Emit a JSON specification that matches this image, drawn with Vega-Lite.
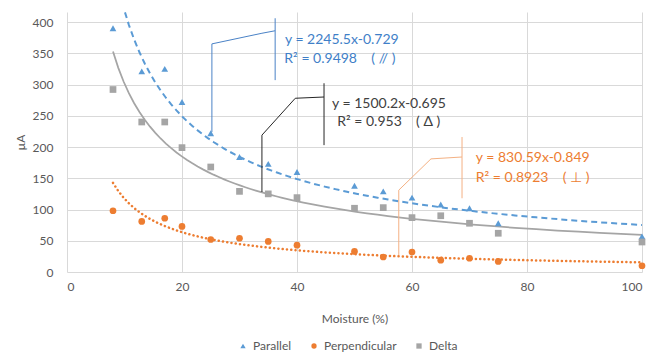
{
  "$schema": "https://vega.github.io/schema/vega-lite/v6.json",
  "width": 575,
  "height": 260,
  "autosize": {"type": "none"},
  "padding": {"left": 67, "top": 12, "right": 28, "bottom": 84},
  "background": "white",
  "config": {
    "font": "Lato",
    "view": {"stroke": null},
    "axis": {
      "grid": true,
      "gridColor": "#d9d9d9",
      "domain": false,
      "ticks": false,
      "labelOverlap": false,
      "labelColor": "#595959",
      "labelFontSize": 12,
      "titleColor": "#595959",
      "titleFontSize": 12,
      "titleFontWeight": "normal"
    }
  },
  "datasets": {
    "pts": [
      {"m": 8, "v": 390, "s": "Parallel"},
      {"m": 13, "v": 321, "s": "Parallel"},
      {"m": 17, "v": 325, "s": "Parallel"},
      {"m": 20, "v": 272, "s": "Parallel"},
      {"m": 25, "v": 222, "s": "Parallel"},
      {"m": 30, "v": 184, "s": "Parallel"},
      {"m": 35, "v": 173, "s": "Parallel"},
      {"m": 40, "v": 160, "s": "Parallel"},
      {"m": 50, "v": 138, "s": "Parallel"},
      {"m": 55, "v": 129, "s": "Parallel"},
      {"m": 60, "v": 119, "s": "Parallel"},
      {"m": 65, "v": 108, "s": "Parallel"},
      {"m": 70, "v": 102, "s": "Parallel"},
      {"m": 75, "v": 78, "s": "Parallel"},
      {"m": 100, "v": 57, "s": "Parallel"},
      {"m": 8, "v": 98, "s": "Perpendicular"},
      {"m": 13, "v": 81, "s": "Perpendicular"},
      {"m": 17, "v": 86, "s": "Perpendicular"},
      {"m": 20, "v": 73, "s": "Perpendicular"},
      {"m": 25, "v": 52, "s": "Perpendicular"},
      {"m": 30, "v": 54, "s": "Perpendicular"},
      {"m": 35, "v": 49, "s": "Perpendicular"},
      {"m": 40, "v": 43, "s": "Perpendicular"},
      {"m": 50, "v": 33, "s": "Perpendicular"},
      {"m": 55, "v": 24, "s": "Perpendicular"},
      {"m": 60, "v": 32, "s": "Perpendicular"},
      {"m": 65, "v": 19, "s": "Perpendicular"},
      {"m": 70, "v": 22, "s": "Perpendicular"},
      {"m": 75, "v": 17, "s": "Perpendicular"},
      {"m": 100, "v": 10, "s": "Perpendicular"},
      {"m": 8, "v": 292, "s": "Delta"},
      {"m": 13, "v": 240, "s": "Delta"},
      {"m": 17, "v": 240, "s": "Delta"},
      {"m": 20, "v": 199, "s": "Delta"},
      {"m": 25, "v": 168, "s": "Delta"},
      {"m": 30, "v": 129, "s": "Delta"},
      {"m": 35, "v": 125, "s": "Delta"},
      {"m": 40, "v": 119, "s": "Delta"},
      {"m": 50, "v": 102, "s": "Delta"},
      {"m": 55, "v": 103, "s": "Delta"},
      {"m": 60, "v": 87, "s": "Delta"},
      {"m": 65, "v": 90, "s": "Delta"},
      {"m": 70, "v": 78, "s": "Delta"},
      {"m": 75, "v": 62, "s": "Delta"},
      {"m": 100, "v": 48, "s": "Delta"}
    ],
    "leaders": [
      {"s": "Parallel", "seg": "a", "k": 1, "m": 25.2, "v": 224},
      {"s": "Parallel", "seg": "a", "k": 2, "m": 25.2, "v": 365},
      {"s": "Parallel", "seg": "a", "k": 3, "m": 33.9, "v": 382},
      {"s": "Parallel", "seg": "a", "k": 4, "m": 36.2, "v": 386},
      {"s": "Parallel", "seg": "b", "k": 1, "m": 36.2, "v": 406},
      {"s": "Parallel", "seg": "b", "k": 2, "m": 36.2, "v": 307},
      {"s": "Delta", "seg": "c", "k": 1, "m": 33.9, "v": 128},
      {"s": "Delta", "seg": "c", "k": 2, "m": 33.9, "v": 219},
      {"s": "Delta", "seg": "c", "k": 3, "m": 39.7, "v": 278},
      {"s": "Delta", "seg": "c", "k": 4, "m": 44.7, "v": 280},
      {"s": "Delta", "seg": "d", "k": 1, "m": 44.7, "v": 302},
      {"s": "Delta", "seg": "d", "k": 2, "m": 44.7, "v": 203},
      {"s": "Perpendicular", "seg": "e", "k": 1, "m": 57.7, "v": 27},
      {"s": "Perpendicular", "seg": "e", "k": 2, "m": 57.7, "v": 131},
      {"s": "Perpendicular", "seg": "e", "k": 3, "m": 63.3, "v": 181},
      {"s": "Perpendicular", "seg": "e", "k": 4, "m": 68.7, "v": 184},
      {"s": "Perpendicular", "seg": "f", "k": 1, "m": 68.7, "v": 216},
      {"s": "Perpendicular", "seg": "f", "k": 2, "m": 68.7, "v": 118}
    ],
    "ann": [
      {"s": "Parallel", "m": 37.9, "v": 371, "t": "y = 2245.5x-0.729"},
      {"s": "Parallel", "m": 37.8, "v": 341, "t": "R² = 0.9498\u00a0\u00a0\u00a0\u00a0( // )"},
      {"s": "Delta", "m": 46.1, "v": 269, "t": "y = 1500.2x-0.695"},
      {"s": "Delta", "m": 47.0, "v": 240, "t": "R² = 0.953\u00a0\u00a0\u00a0\u00a0( Δ )"},
      {"s": "Perpendicular", "m": 71.1, "v": 182, "t": "y = 830.59x-0.849"},
      {"s": "Perpendicular", "m": 71.1, "v": 150, "t": "R² = 0.8923\u00a0\u00a0\u00a0\u00a0( ⊥ )"}
    ]
  },
  "encoding": {
    "x": {
      "field": "m",
      "type": "quantitative",
      "scale": {"domain": [0, 100], "nice": false},
      "axis": {"title": "Moisture (%)", "values": [0, 20, 40, 60, 80, 100], "labelPadding": 9, "titlePadding": 21}
    },
    "y": {
      "field": "v",
      "type": "quantitative",
      "scale": {"domain": [0, 416], "nice": false},
      "axis": {"title": "µA", "values": [0, 50, 100, 150, 200, 250, 300, 350, 400], "labelPadding": 14, "titlePadding": 5}
    }
  },
  "layer": [
    {
      "data": {"name": "pts"},
      "transform": [
        {"filter": "datum.s === 'Parallel'"},
        {"regression": "v", "on": "m", "method": "pow", "extent": [8, 100]}
      ],
      "mark": {"type": "line", "clip": true, "color": "#5B9BD5", "strokeWidth": 2, "strokeDash": [6, 4]}
    },
    {
      "data": {"name": "pts"},
      "transform": [
        {"filter": "datum.s === 'Delta'"},
        {"regression": "v", "on": "m", "method": "pow", "extent": [8, 100]}
      ],
      "mark": {"type": "line", "clip": true, "color": "#A5A5A5", "strokeWidth": 1.75}
    },
    {
      "data": {"name": "pts"},
      "transform": [
        {"filter": "datum.s === 'Perpendicular'"},
        {"regression": "v", "on": "m", "method": "pow", "extent": [8, 100]}
      ],
      "mark": {"type": "line", "clip": true, "color": "#ED7D31", "strokeWidth": 2.5, "strokeDash": [0.1, 4.2], "strokeCap": "round"}
    },
    {
      "data": {"name": "leaders"},
      "transform": [{"filter": "datum.s === 'Parallel'"}],
      "mark": {"type": "line", "strokeWidth": 1, "color": "#4a82c6"},
      "encoding": {"detail": {"field": "seg"}, "order": {"field": "k"}}
    },
    {
      "data": {"name": "leaders"},
      "transform": [{"filter": "datum.s === 'Delta'"}],
      "mark": {"type": "line", "strokeWidth": 1, "color": "#262626"},
      "encoding": {"detail": {"field": "seg"}, "order": {"field": "k"}}
    },
    {
      "data": {"name": "leaders"},
      "transform": [{"filter": "datum.s === 'Perpendicular'"}],
      "mark": {"type": "line", "strokeWidth": 1, "color": "#f4b183"},
      "encoding": {"detail": {"field": "seg"}, "order": {"field": "k"}}
    },
    {
      "data": {"name": "ann"},
      "transform": [{"filter": "datum.s === 'Parallel'"}],
      "mark": {"type": "text", "align": "left", "baseline": "middle", "fontSize": 14, "color": "#3f7fc8"},
      "encoding": {"text": {"field": "t"}}
    },
    {
      "data": {"name": "ann"},
      "transform": [{"filter": "datum.s === 'Delta'"}],
      "mark": {"type": "text", "align": "left", "baseline": "middle", "fontSize": 14, "color": "#404040"},
      "encoding": {"text": {"field": "t"}}
    },
    {
      "data": {"name": "ann"},
      "transform": [{"filter": "datum.s === 'Perpendicular'"}],
      "mark": {"type": "text", "align": "left", "baseline": "middle", "fontSize": 14, "color": "#ED7D31"},
      "encoding": {"text": {"field": "t"}}
    },
    {
      "data": {"name": "pts"},
      "mark": {"type": "point", "filled": true, "opacity": 1, "size": 45},
      "encoding": {
        "color": {
          "field": "s",
          "type": "nominal",
          "title": null,
          "scale": {"domain": ["Parallel", "Perpendicular", "Delta"], "range": ["#5B9BD5", "#ED7D31", "#A5A5A5"]},
          "legend": {"orient": "none", "direction": "horizontal", "legendX": 170, "legendY": 328, "labelColor": "#595959", "labelFontSize": 12, "symbolSize": 28, "columnPadding": 16, "labelOffset": 4}
        },
        "shape": {
          "field": "s",
          "type": "nominal",
          "title": null,
          "scale": {"domain": ["Parallel", "Perpendicular", "Delta"], "range": ["triangle-up", "circle", "square"]}
        }
      }
    }
  ]
}
